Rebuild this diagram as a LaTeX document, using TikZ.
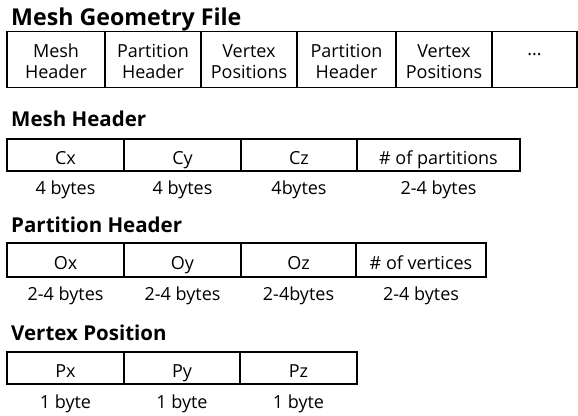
\documentclass[tikz,border=0pt]{standalone}
\usepackage{fontspec}
\setmainfont{Open Sans}
\begin{document}
\begin{tikzpicture}[x=1pt,y=-1pt,
  cell/.style={draw=black, line width=1.1pt, rectangle, inner sep=0pt, align=center,
    font=\fontsize{18}{21}\selectfont, text height=18pt, text depth=0pt},
  cell2/.style={cell, text height=37pt, text depth=0pt},
  ttl/.style={anchor=base west, inner sep=0pt, font=\fontsize{20.5}{24}\selectfont\bfseries},
  lbl/.style={anchor=base, inner sep=0pt, font=\fontsize{18}{21}\selectfont}]
\useasboundingbox (0,0) rectangle (578,415);
% Mesh Geometry File
\node[ttl, font=\fontsize{23.2}{26}\selectfont\bfseries] (t1) at (11,25) {Mesh Geometry File};
\node[cell2, minimum width=98pt, minimum height=56pt] (g1) at (56,59.5) {Mesh\\Header};
\node[cell2, minimum width=96pt, minimum height=56pt] (g2) at (153,59.5) {Partition\\Header};
\node[cell2, minimum width=96pt, minimum height=56pt] (g3) at (249,59.5) {Vertex\\Positions};
\node[cell2, minimum width=99pt, minimum height=56pt] (g4) at (346.5,59.5) {Partition\\Header};
\node[cell2, minimum width=96pt, minimum height=56pt] (g5) at (444,59.5) {Vertex\\Positions};
\node[cell, text height=0pt, text depth=9pt, minimum width=85pt, minimum height=56pt] (g6) at (534.5,59.5) {...};
% Mesh Header
\node[ttl] (t2) at (11,126) {Mesh Header};
\node[cell, minimum width=117pt, minimum height=32pt] (m1) at (65.5,155) {Cx};
\node[cell, minimum width=117pt, minimum height=32pt] (m2) at (182.5,155) {Cy};
\node[cell, minimum width=116pt, minimum height=32pt] (m3) at (299,155) {Cz};
\node[cell, minimum width=163pt, minimum height=32pt] (m4) at (438.5,155) {\# of partitions};
\node[lbl] (m1b) at (65.5,194) {4 bytes};
\node[lbl] (m2b) at (182.5,194) {4 bytes};
\node[lbl] (m3b) at (299,194) {4bytes};
\node[lbl] (m4b) at (438.5,194) {2-4 bytes};
% Partition Header
\node[ttl] (t3) at (11,232) {Partition Header};
\node[cell, minimum width=117pt, minimum height=34pt] (p1) at (65.5,260) {Ox};
\node[cell, minimum width=117pt, minimum height=34pt] (p2) at (182.5,260) {Oy};
\node[cell, minimum width=115pt, minimum height=34pt] (p3) at (298.5,260) {Oz};
\node[cell, minimum width=130pt, minimum height=34pt] (p4) at (421,260) {\# of vertices};
\node[lbl] (p1b) at (65.5,300) {2-4 bytes};
\node[lbl] (p2b) at (182.5,300) {2-4 bytes};
\node[lbl] (p3b) at (298.5,300) {2-4bytes};
\node[lbl] (p4b) at (421,300) {2-4 bytes};
% Vertex Position
\node[ttl] (t4) at (11,340) {Vertex Position};
\node[cell, minimum width=117pt, minimum height=32pt] (v1) at (65.5,368) {Px};
\node[cell, minimum width=116pt, minimum height=32pt] (v2) at (182,368) {Py};
\node[cell, minimum width=117pt, minimum height=32pt] (v3) at (298.5,368) {Pz};
\node[lbl] (v1b) at (65.5,408) {1 byte};
\node[lbl] (v2b) at (182,408) {1 byte};
\node[lbl] (v3b) at (298.5,408) {1 byte};
\end{tikzpicture}
\end{document}
